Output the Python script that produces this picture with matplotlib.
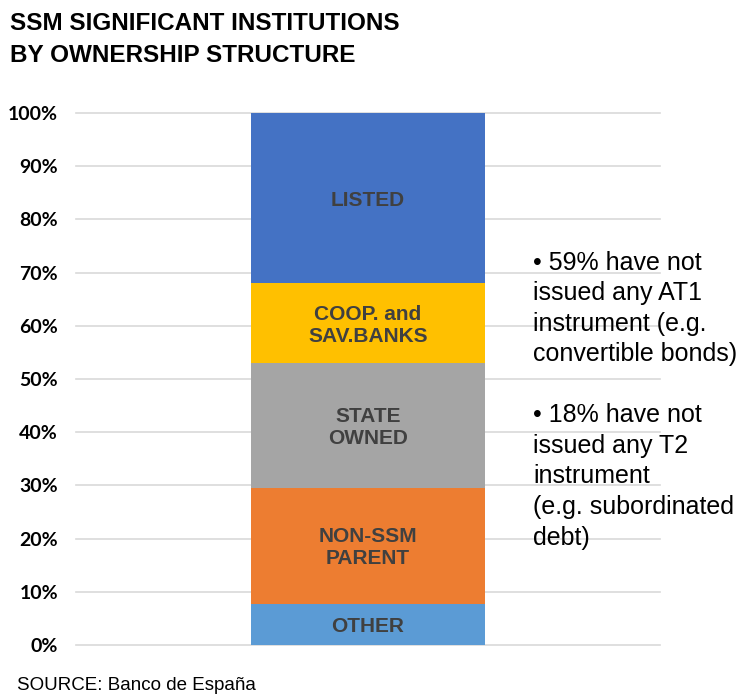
import matplotlib.pyplot as plt

# ownership shares (%), bottom to top
categories = ['OTHER', 'NON-SSM\nPARENT', 'STATE\nOWNED', 'COOP. and\nSAV.BANKS', 'LISTED']
shares = [7.8, 21.7, 23.5, 15.0, 32.0]
colors = ['#5B9BD5', '#ED7D31', '#A5A5A5', '#FFC000', '#4472C4']
yticks = [0, 10, 20, 30, 40, 50, 60, 70, 80, 90, 100]
ytick_labels = [f'{v}%' for v in yticks]

notes_1 = '• 59% have not\nissued any AT1\ninstrument (e.g.\nconvertible bonds)'
notes_2 = '• 18% have not\nissued any T2\ninstrument\n(e.g. subordinated\ndebt)'

fig = plt.figure(figsize=(7.45, 6.96), dpi=100)
ax = fig.add_axes([76 / 745, 51 / 696, 584 / 745, 532 / 696])

bottom = 0
for cat, val, col in zip(categories, shares, colors):
    ax.bar(0, val, width=0.4, bottom=bottom, color=col, zorder=3)
    ax.text(0, bottom + val / 2 - 0.4, cat, ha='center', va='center',
            fontsize=15, fontweight='bold', color='#404040',
            family='Liberation Sans', linespacing=1.2, zorder=4)
    bottom += val

ax.set_xlim(-0.5, 0.5)
ax.set_ylim(0, 100)
ax.set_xticks([])
ax.set_yticks(yticks)
ax.set_yticklabels(ytick_labels, fontsize=14, fontweight='bold', family='Lato')
ax.tick_params(axis='y', length=0, pad=13)
ax.grid(axis='y', color='#d9d9d9', linewidth=1.2, zorder=0)
for s in ax.spines.values():
    s.set_visible(False)
for gl in ax.get_ygridlines():
    gl.set_clip_on(False)

fig.text(10 / 745, 1 - 24 / 696, 'SSM SIGNIFICANT INSTITUTIONS', fontsize=17.5,
         fontweight='bold', family='Liberation Sans', va='center')
fig.text(10 / 745, 1 - 56 / 696, 'BY OWNERSHIP STRUCTURE', fontsize=17.5,
         fontweight='bold', family='Liberation Sans', va='center')

fig.text(533 / 745, 1 - 251 / 696, notes_1, fontsize=18, family='Liberation Sans',
         va='top', linespacing=1.33)
fig.text(533 / 745, 1 - 403 / 696, notes_2, fontsize=18, family='Liberation Sans',
         va='top', linespacing=1.35)

fig.text(17 / 745, 1 - 686 / 696, 'SOURCE: Banco de España', fontsize=13.5,
         family='Liberation Sans', va='center')

fig.savefig('out.png', dpi=100)
